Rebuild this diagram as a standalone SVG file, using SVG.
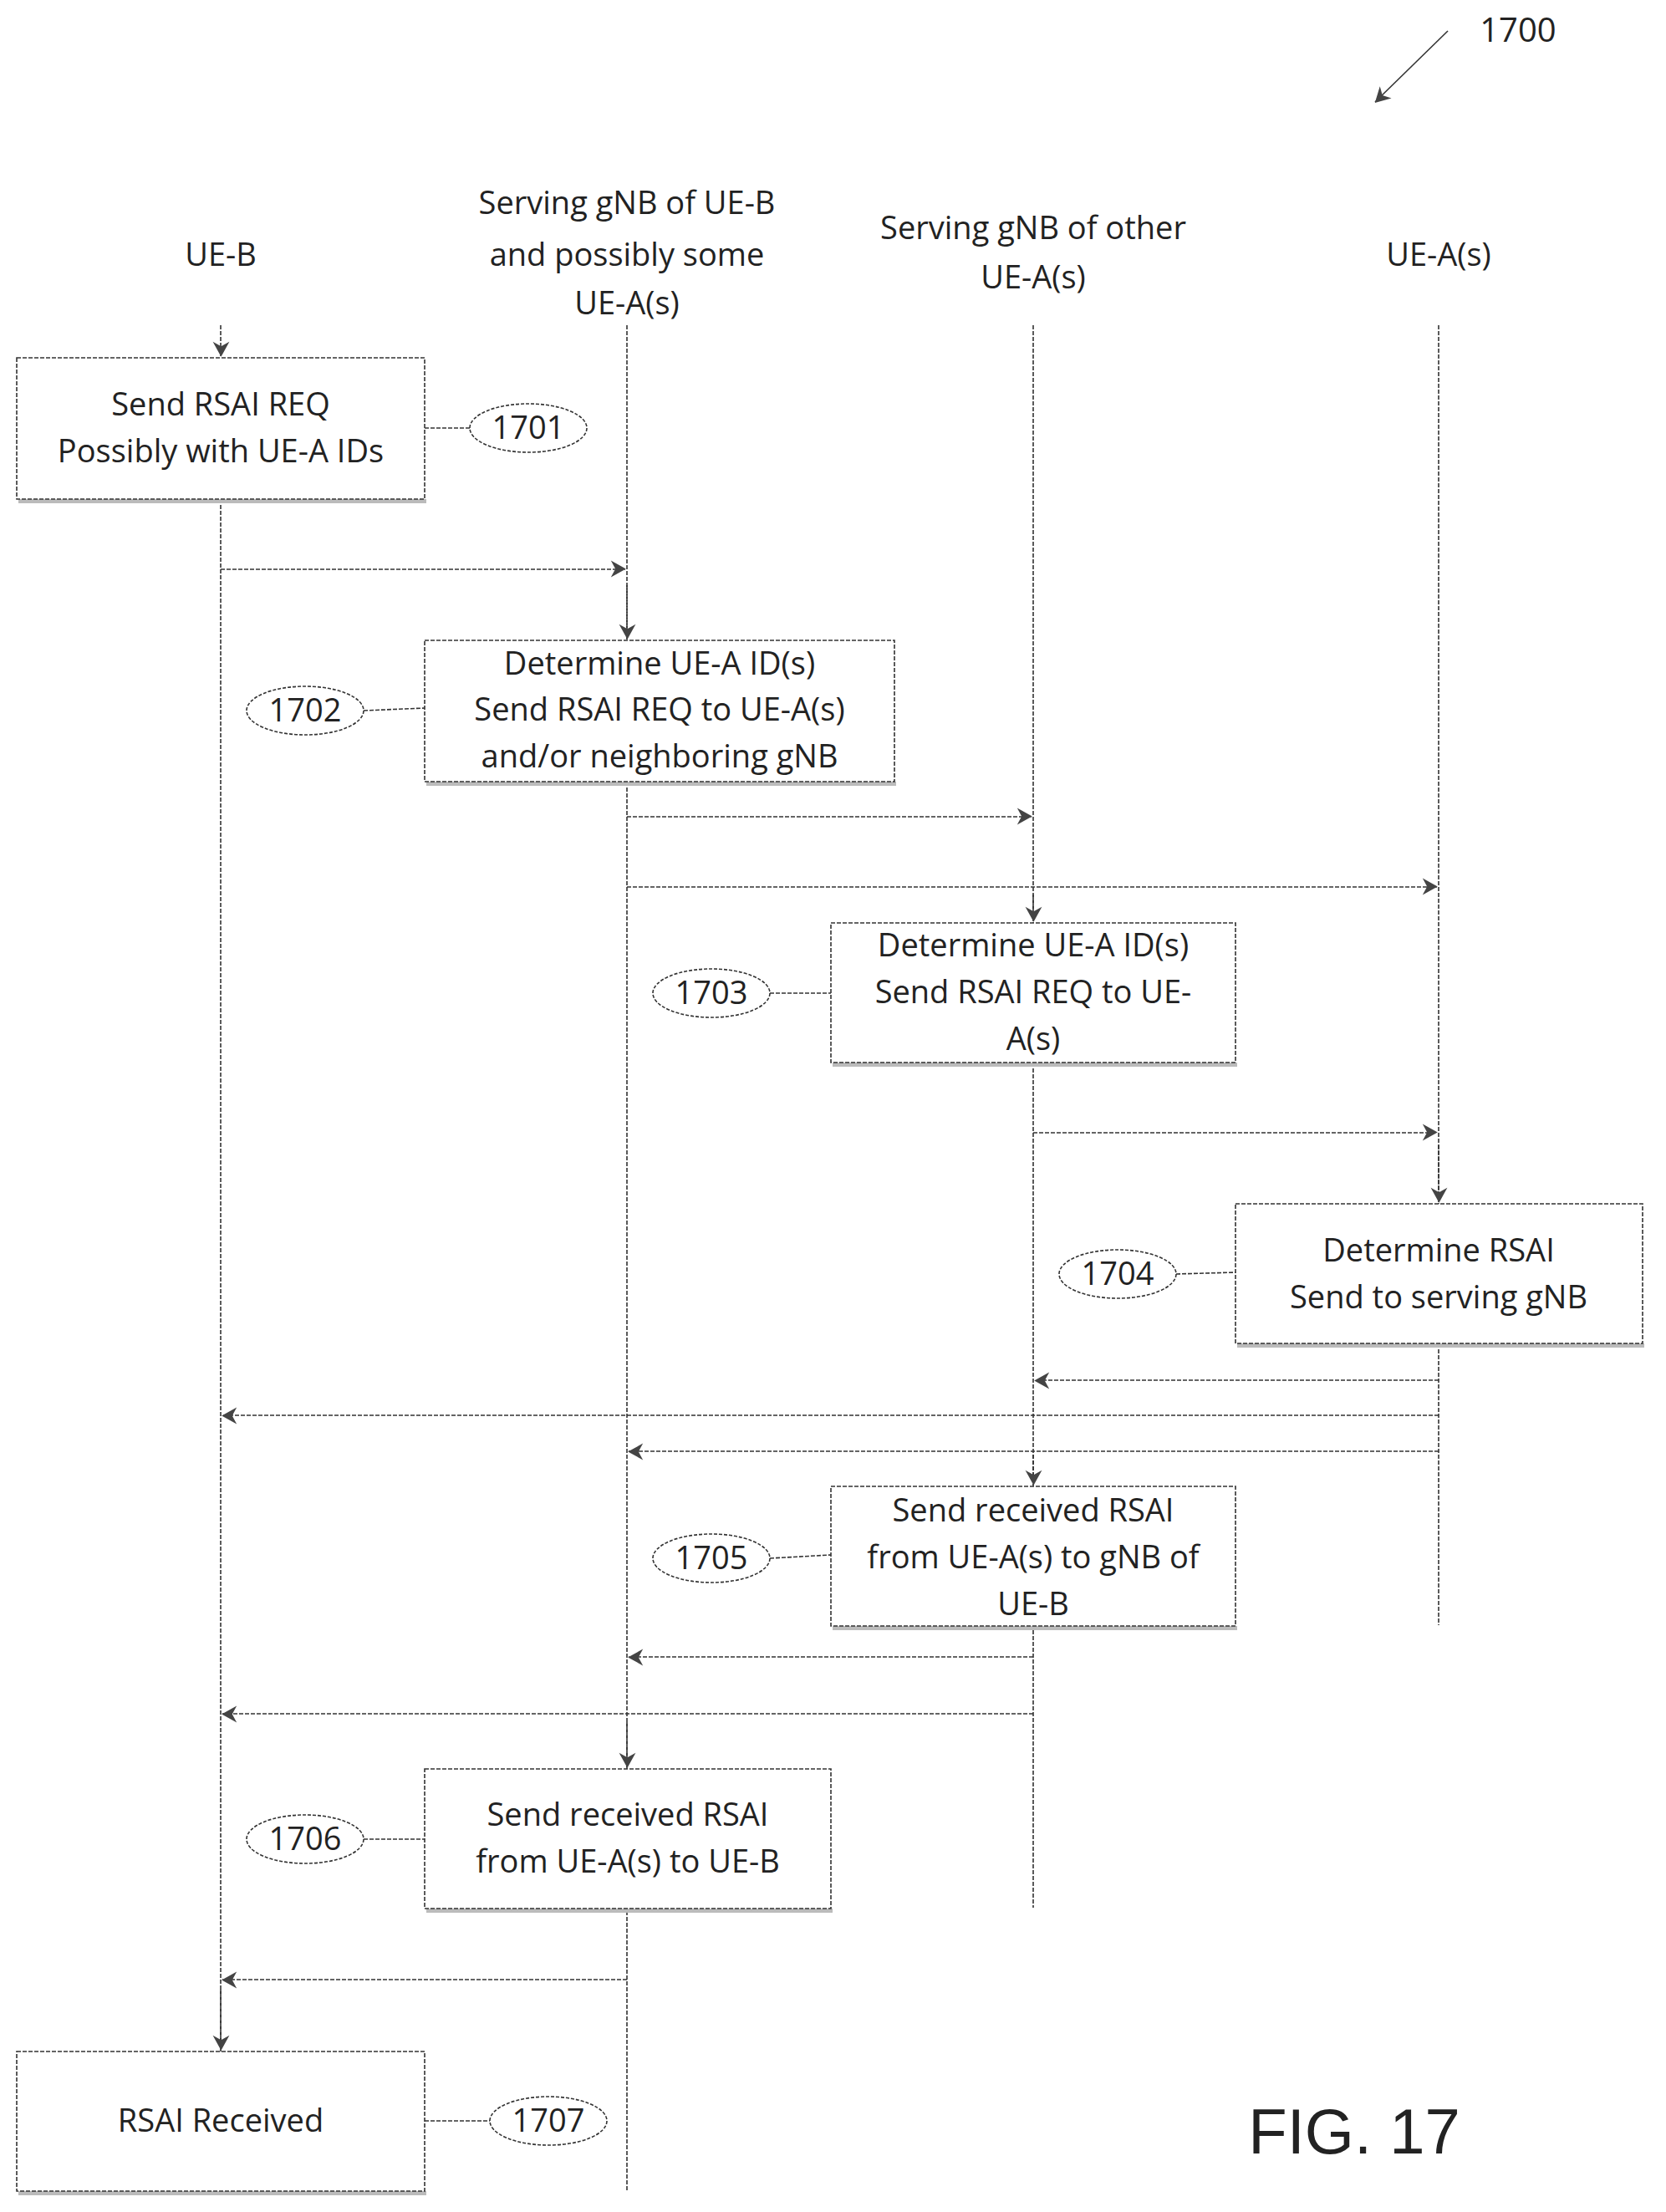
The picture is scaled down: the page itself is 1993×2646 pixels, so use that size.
<svg xmlns="http://www.w3.org/2000/svg" width="1993" height="2646" viewBox="0 0 1993 2646">
<style>
text{font-family:"Open Sans","Liberation Sans",sans-serif;font-size:38px;fill:#222;text-anchor:middle}
.box{fill:#fff;stroke:#333;stroke-width:1.6;stroke-dasharray:5 2}
.sh{fill:#bbb}
.ln{stroke:#333;stroke-width:1.6;stroke-dasharray:5 2;fill:none}
.ar{stroke:#333;stroke-width:1.6;stroke-dasharray:5 2;fill:none;marker-end:url(#a)}
.el{fill:#fff;stroke:#333;stroke-width:1.6;stroke-dasharray:4 2}
</style>
<defs><marker id="a" viewBox="0 0 10 10" refX="10" refY="5" markerWidth="10" markerHeight="10" markerUnits="userSpaceOnUse" orient="auto-start-reverse" overflow="visible"><path d="M-8,-6 L12,5 L-8,16 L-2,5 Z" transform="scale(0.9)" fill="#444"/></marker></defs>
<g id="ref1700"><text x="1816" y="50" style="font-size:40px">1700</text>
<line x1="1732" y1="37" x2="1645" y2="122" class="ln" marker-end="url(#a)" style="stroke-dasharray:none"/></g>
<g id="headers">
<text x="264" y="318">UE-B</text>
<text x="750" y="256">Serving gNB of UE-B</text>
<text x="750" y="318">and possibly some</text>
<text x="750" y="376">UE-A(s)</text>
<text x="1236" y="286">Serving gNB of other</text>
<text x="1236" y="345">UE-A(s)</text>
<text x="1721" y="318">UE-A(s)</text>
</g>
<g id="connectors">
<line class="ar" x1="264" y1="389" x2="264" y2="426"/>
<line class="ln" x1="264" y1="597" x2="264" y2="2454"/>
<line class="ar" x1="264" y1="2380" x2="264" y2="2452"/>
<line class="ln" x1="750" y1="389" x2="750" y2="2620"/>
<line class="ar" x1="750" y1="700" x2="750" y2="764"/>
<line class="ar" x1="750" y1="2060" x2="750" y2="2114"/>
<line class="ln" x1="1236" y1="389" x2="1236" y2="2282"/>
<line class="ar" x1="1236" y1="1070" x2="1236" y2="1102"/>
<line class="ar" x1="1236" y1="1740" x2="1236" y2="1776"/>
<line class="ln" x1="1721" y1="389" x2="1721" y2="1944"/>
<line class="ar" x1="1721" y1="1370" x2="1721" y2="1438"/>
<line class="ar" x1="264" y1="681" x2="748" y2="681"/>
<line class="ar" x1="750" y1="977" x2="1234" y2="977"/>
<line class="ar" x1="750" y1="1061" x2="1719" y2="1061"/>
<line class="ar" x1="1236" y1="1355" x2="1719" y2="1355"/>
<line class="ar" x1="1721" y1="1651" x2="1238" y2="1651"/>
<line class="ar" x1="1721" y1="1693" x2="266" y2="1693"/>
<line class="ar" x1="1721" y1="1736" x2="752" y2="1736"/>
<line class="ar" x1="1236" y1="1982" x2="752" y2="1982"/>
<line class="ar" x1="1236" y1="2050" x2="266" y2="2050"/>
<line class="ar" x1="750" y1="2368" x2="266" y2="2368"/>
<line class="ln" x1="508" y1="512" x2="562" y2="512"/>
<line class="ln" x1="435" y1="850" x2="508" y2="847"/>
<line class="ln" x1="921" y1="1188" x2="994" y2="1188"/>
<line class="ln" x1="1407" y1="1524" x2="1478" y2="1522"/>
<line class="ln" x1="921" y1="1864" x2="994" y2="1860"/>
<line class="ln" x1="435" y1="2200" x2="508" y2="2200"/>
<line class="ln" x1="508" y1="2537" x2="586" y2="2537"/>
</g>
<g id="n1701"><rect class="sh" x="22" y="597" width="488" height="5"/><rect class="box" x="20" y="428" width="488" height="169"/>
<text x="264" y="497">Send RSAI REQ</text><text x="264" y="553">Possibly with UE-A IDs</text>
<ellipse class="el" cx="632" cy="512" rx="70" ry="29"/><text x="632" y="525">1701</text></g>
<g id="n1702"><rect class="sh" x="510" y="935" width="562" height="5"/><rect class="box" x="508" y="766" width="562" height="169"/>
<text x="789" y="807">Determine UE-A ID(s)</text><text x="789" y="862">Send RSAI REQ to UE-A(s)</text><text x="789" y="918">and/or neighboring gNB</text>
<ellipse class="el" cx="365" cy="850" rx="70" ry="29"/><text x="365" y="863">1702</text></g>
<g id="n1703"><rect class="sh" x="996" y="1271" width="484" height="5"/><rect class="box" x="994" y="1104" width="484" height="167"/>
<text x="1236" y="1144">Determine UE-A ID(s)</text><text x="1236" y="1200">Send RSAI REQ to UE-</text><text x="1236" y="1256">A(s)</text>
<ellipse class="el" cx="851" cy="1188" rx="70" ry="29"/><text x="851" y="1201">1703</text></g>
<g id="n1704"><rect class="sh" x="1480" y="1607" width="487" height="5"/><rect class="box" x="1478" y="1440" width="487" height="167"/>
<text x="1721" y="1509">Determine RSAI</text><text x="1721" y="1565">Send to serving gNB</text>
<ellipse class="el" cx="1337" cy="1524" rx="70" ry="29"/><text x="1337" y="1537">1704</text></g>
<g id="n1705"><rect class="sh" x="996" y="1945" width="484" height="5"/><rect class="box" x="994" y="1778" width="484" height="167"/>
<text x="1236" y="1820">Send received RSAI</text><text x="1236" y="1876">from UE-A(s) to gNB of</text><text x="1236" y="1932">UE-B</text>
<ellipse class="el" cx="851" cy="1864" rx="70" ry="29"/><text x="851" y="1877">1705</text></g>
<g id="n1706"><rect class="sh" x="510" y="2283" width="486" height="5"/><rect class="box" x="508" y="2116" width="486" height="167"/>
<text x="751" y="2184">Send received RSAI</text><text x="751" y="2240">from UE-A(s) to UE-B</text>
<ellipse class="el" cx="365" cy="2200" rx="70" ry="29"/><text x="365" y="2213">1706</text></g>
<g id="n1707"><rect class="sh" x="22" y="2621" width="488" height="5"/><rect class="box" x="20" y="2454" width="488" height="167"/>
<text x="264" y="2550">RSAI Received</text>
<ellipse class="el" cx="656" cy="2537" rx="70" ry="29"/><text x="656" y="2550">1707</text></g>
<text x="1620" y="2576" style="font-family:'Liberation Sans',Arial,sans-serif;font-size:76px">FIG. 17</text>
</svg>
